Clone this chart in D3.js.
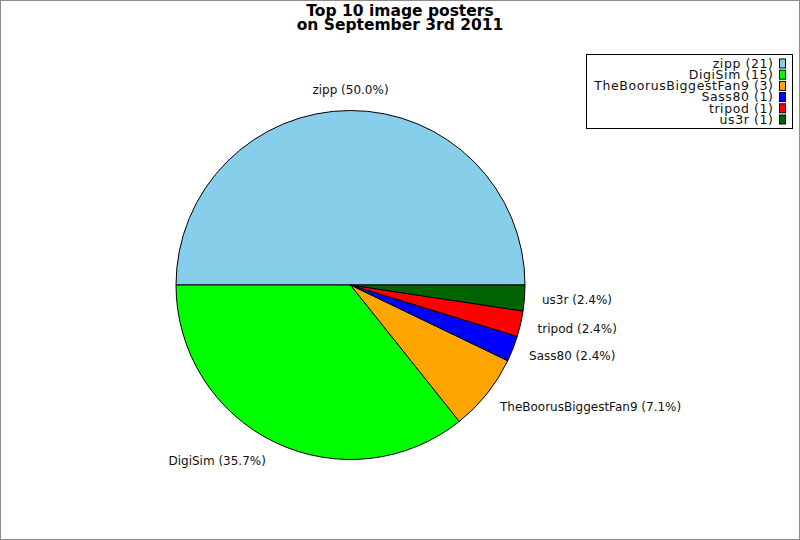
<!DOCTYPE html>
<html lang="en">
<head>
    <meta charset="UTF-8">
    <title>Top 10 image posters</title>
    <script src="https://d3js.org/d3.v7.min.js"></script>
    <style>
        body { margin: 0; background: white; }
        svg { display: block; font-family: 'DejaVu Sans', sans-serif; }
        .slice { stroke: black; stroke-width: 1px; }
        .lbl { font-size: 12px; fill: #111; }
        .leg { font-size: 12.5px; letter-spacing: 0.6px; fill: #111; }
        .title { font-size: 15.5px; font-weight: bold; fill: black; }
    </style>
</head>
<body>
    <svg id="canvas" width="800" height="540"></svg>
    <script>
        // chart data
        let names = ['zipp', 'DigiSim', 'TheBoorusBiggestFan9', 'Sass80', 'tripod', 'us3r'];
        let counts = [21, 15, 3, 1, 1, 1];
        let colors = ['#87CEEB', '#00FF00', '#FFA500', '#0000FF', '#FF0000', '#006400'];
        let titleLines = ['Top 10 image posters', 'on September 3rd 2011'];

        let svg = d3.select('svg');
        let cx = 350.5, cy = 285, radius = 174.5, labelR = 195;

        // frame
        svg.append('rect')
            .attr('x', 0.5).attr('y', 0.5)
            .attr('width', 799).attr('height', 539)
            .attr('fill', 'white')
            .attr('stroke', '#8c8c8c');

        // title
        svg.selectAll('text.title')
            .data(titleLines)
            .enter()
            .append('text')
            .attr('class', 'title')
            .attr('x', 400)
            .attr('y', function(d, i){ return 16 + i * 14; })
            .attr('text-anchor', 'middle')
            .text(function(d){ return d; });

        let total = d3.sum(counts);
        let rows = names.map(function(n, i){ return {name: n, value: counts[i], color: colors[i]}; });

        // counter-clockwise from 3 o'clock
        let pie = d3.pie()
            .sort(null)
            .value(function(d){ return d.value; })
            .startAngle(Math.PI / 2)
            .endAngle(Math.PI / 2 - 2 * Math.PI);

        let arc = d3.arc().innerRadius(0).outerRadius(radius);
        let arcs = pie(rows);

        let g = svg.append('g').attr('transform', 'translate(' + cx + ',' + cy + ')');

        g.selectAll('path')
            .data(arcs)
            .enter()
            .append('path')
            .attr('class', 'slice')
            .attr('d', arc)
            .attr('fill', function(d){ return d.data.color; });

        // slice labels
        g.selectAll('text.lbl')
            .data(arcs)
            .enter()
            .append('text')
            .attr('class', 'lbl')
            .each(function(d){
                let a = (d.startAngle + d.endAngle) / 2;
                let x = labelR * Math.sin(a);
                let y = -labelR * Math.cos(a);
                let anchor = Math.abs(x) < 20 ? 'middle' : (x > 0 ? 'start' : 'end');
                d3.select(this)
                    .attr('x', x > 20 ? x - 3 : x)
                    .attr('y', y)
                    .attr('dy', '0.35em')
                    .attr('text-anchor', anchor);
            })
            .text(function(d){
                return d.data.name + ' (' + (d.data.value / total * 100).toFixed(1) + '%)';
            });

        // legend
        let leg = svg.append('g');
        leg.append('rect')
            .attr('x', 586.5).attr('y', 54.5)
            .attr('width', 206).attr('height', 74)
            .attr('fill', 'white')
            .attr('stroke', 'black');

        let legRow = d3.scaleLinear().domain([0, rows.length - 1]).range([63.5, 119.5]);

        leg.selectAll('text')
            .data(rows)
            .enter()
            .append('text')
            .attr('class', 'leg')
            .attr('x', 773.6)
            .attr('y', function(d, i){ return legRow(i); })
            .attr('dy', '0.35em')
            .attr('text-anchor', 'end')
            .text(function(d){ return d.name + ' (' + d.value + ')'; });

        leg.selectAll('rect.sw')
            .data(rows)
            .enter()
            .append('rect')
            .attr('class', 'sw')
            .attr('x', 779.5)
            .attr('y', function(d, i){ return legRow(i) - 4.5; })
            .attr('width', 6)
            .attr('height', 9)
            .attr('fill', function(d){ return d.color; })
            .attr('stroke', 'black');
    </script>
</body>
</html>
